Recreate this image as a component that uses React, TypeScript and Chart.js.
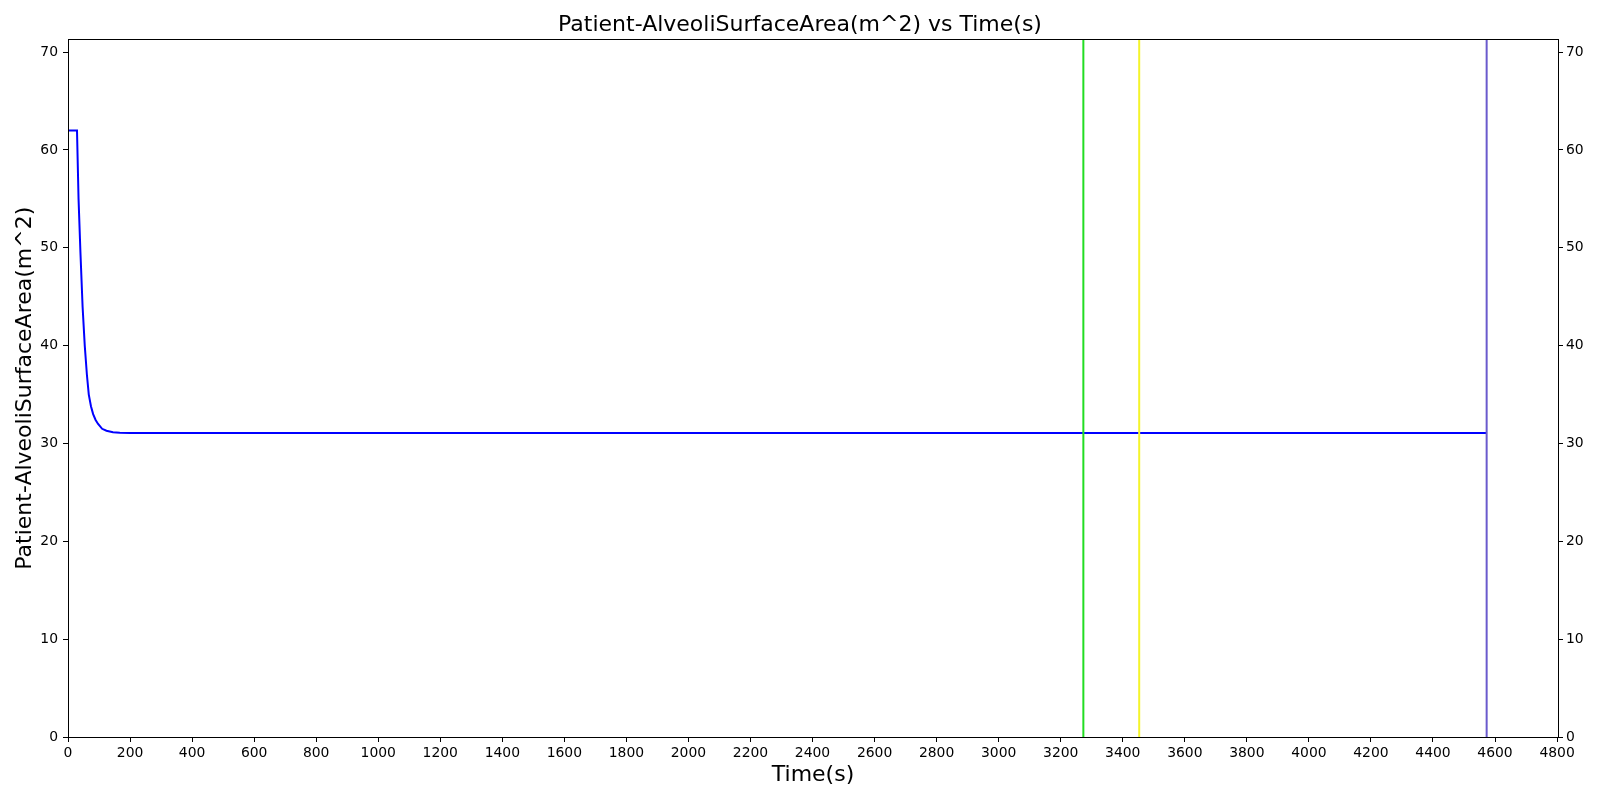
import React, { useEffect, useRef } from "react";
import { Chart, registerables } from "chart.js";

Chart.register(...registerables);

// Data
const timeS = [0, 29, 34, 40, 47, 54, 61, 67, 74, 81, 89, 97, 110, 124, 145, 167, 200, 400, 800, 1200, 1600, 2000, 2400, 2800, 3200, 3600, 4000, 4400, 4573];
const alveoliArea = [62, 62, 55, 49.6, 44, 40, 37, 35, 33.8, 33, 32.4, 32, 31.5, 31.3, 31.15, 31.1, 31.08, 31.08, 31.08, 31.08, 31.08, 31.08, 31.08, 31.08, 31.08, 31.08, 31.08, 31.08, 31.08];

const markerTimes = [3273, 3453, 4573];
const markerColors = ["#22dd22", "#f4f42a", "#6a5acd"];

const xTicks = [0, 200, 400, 600, 800, 1000, 1200, 1400, 1600, 1800, 2000, 2200, 2400, 2600, 2800, 3000, 3200, 3400, 3600, 3800, 4000, 4200, 4400, 4600, 4800];
const yTicks = [0, 10, 20, 30, 40, 50, 60, 70];

const X_MIN = 0;
const X_MAX = 4803;
const Y_MIN = 0;
const Y_MAX = 71.3;

const titleText = "Patient-AlveoliSurfaceArea(m^2) vs Time(s)";
const xLabel = "Time(s)";
const yLabel = "Patient-AlveoliSurfaceArea(m^2)";

const FONT = "'DejaVu Sans', sans-serif";

const framePlugin = {
  id: "frame",
  afterDatasetsDraw(chart: any) {
    const { ctx, chartArea } = chart;
    ctx.save();
    ctx.strokeStyle = "#000";
    ctx.lineWidth = 1;
    ctx.strokeRect(
      Math.round(chartArea.left) + 0.5,
      Math.round(chartArea.top) + 0.5,
      Math.round(chartArea.right - chartArea.left),
      Math.round(chartArea.bottom - chartArea.top)
    );
    ctx.restore();
  },
};

export default function App() {
  const ref = useRef<HTMLCanvasElement | null>(null);

  useEffect(() => {
    if (!ref.current) return;
    Chart.defaults.font.family = FONT;
    Chart.defaults.color = "#000";

    const mainData = timeS.map((t, i) => ({ x: t, y: alveoliArea[i] }));
    const markerSets = markerTimes.map((t, i) => ({
      label: "marker" + i,
      data: [
        { x: t, y: Y_MIN },
        { x: t, y: Y_MAX },
      ],
      borderColor: markerColors[i],
      borderWidth: 2,
      pointRadius: 0,
      tension: 0,
      order: 1,
      yAxisID: "y",
    }));

    const chart = new Chart(ref.current, {
      type: "line",
      data: {
        datasets: [
          {
            label: "area",
            data: mainData,
            borderColor: "#0000ff",
            borderWidth: 2,
            pointRadius: 0,
            tension: 0,
            order: 5,
            yAxisID: "y",
          },
          ...markerSets,
        ],
      },
      options: {
        responsive: false,
        animation: false,
        layout: { padding: 0 },
        plugins: {
          legend: { display: false },
          tooltip: { enabled: false },
          title: {
            display: true,
            text: titleText,
            font: { size: 22, weight: "normal", family: FONT },
            color: "#000",
            padding: { top: 12, bottom: 1 },
          },
        },
        scales: {
          x: {
            type: "linear",
            position: "bottom",
            min: X_MIN,
            max: X_MAX,
            afterBuildTicks: (s: any) => {
              s.ticks = xTicks.map((v) => ({ value: v }));
            },
            afterFit: (s: any) => {
              s.height = 63;
            },
            ticks: {
              autoSkip: false,
              maxRotation: 0,
              padding: 3,
              font: { size: 13.9, family: FONT },
              color: "#000",
              callback: (v: any) => String(v),
            },
            grid: {
              drawOnChartArea: false,
              drawTicks: true,
              tickLength: 5,
              color: "#000",
            },
            border: { display: false },
            title: {
              display: true,
              text: xLabel,
              font: { size: 22, family: FONT },
              color: "#000",
              padding: { top: 0, bottom: 12 },
            },
          },
          y: {
            type: "linear",
            position: "left",
            min: Y_MIN,
            max: Y_MAX,
            afterBuildTicks: (s: any) => {
              s.ticks = yTicks.map((v) => ({ value: v }));
            },
            afterFit: (s: any) => {
              s.width = 68;
            },
            ticks: {
              padding: 5,
              font: { size: 13.9, family: FONT },
              color: "#000",
              callback: (v: any) => String(v),
            },
            grid: {
              drawOnChartArea: false,
              drawTicks: true,
              tickLength: 5,
              color: "#000",
            },
            border: { display: false },
            title: {
              display: true,
              text: yLabel,
              font: { size: 22, family: FONT },
              color: "#000",
              padding: { top: 12, bottom: 0 },
            },
          },
          y2: {
            type: "linear",
            position: "right",
            min: Y_MIN,
            max: Y_MAX,
            afterBuildTicks: (s: any) => {
              s.ticks = yTicks.map((v) => ({ value: v }));
            },
            afterFit: (s: any) => {
              s.width = 42;
            },
            ticks: {
              padding: 3,
              font: { size: 13.9, family: FONT },
              color: "#000",
              callback: (v: any) => String(v),
            },
            grid: {
              drawOnChartArea: false,
              drawTicks: true,
              tickLength: 5,
              color: "#000",
            },
            border: { display: false },
          },
        },
      },
      plugins: [framePlugin],
    } as any);

    return () => chart.destroy();
  }, []);

  return (
    <div style={{ position: "absolute", left: 0, top: 0, width: 1600, height: 800, background: "#fff" }}>
      <canvas ref={ref} width={1600} height={800} style={{ display: "block", width: 1600, height: 800 }} />
    </div>
  );
}
